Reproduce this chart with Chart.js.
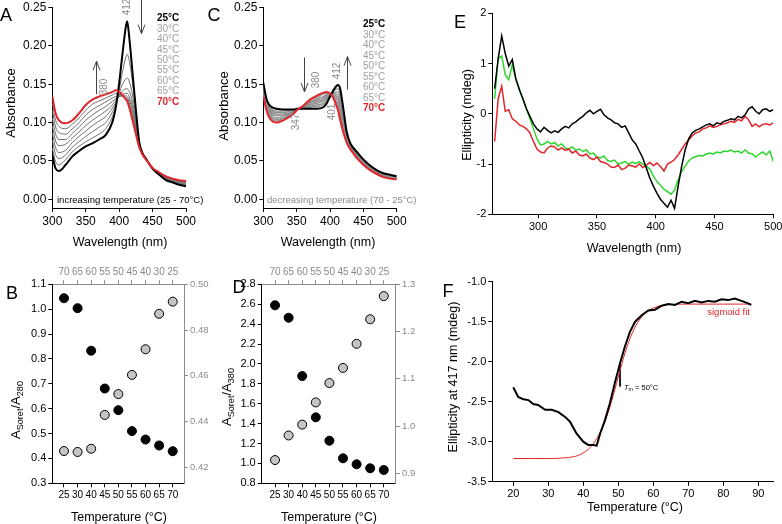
<!DOCTYPE html>
<html><head><meta charset="utf-8">
<script src="https://cdn.jsdelivr.net/npm/chart.js@4"></script>
<style>
body{margin:0;background:#fff;width:782px;height:524px;position:relative;overflow:hidden;font-family:"Liberation Sans",Arial,sans-serif}
canvas{position:absolute;left:0;top:0}
.t{position:absolute;white-space:nowrap;line-height:1;color:#000}
.rot{transform:translate(-50%,-50%) rotate(-90deg)}
.c{transform:translate(-50%,-50%)}
.l{transform:translateY(-50%)}
.g{color:#8a8a8a}
sub{font-size:70%;vertical-align:-0.25em}
</style></head><body>
<canvas id="cA" width="782" height="524"></canvas>
<canvas id="cC" width="782" height="524"></canvas>
<canvas id="cE" width="782" height="524"></canvas>
<canvas id="cB" width="782" height="524"></canvas>
<canvas id="cD" width="782" height="524"></canvas>
<canvas id="cF" width="782" height="524"></canvas>

<div class="t c" style="left:6px;top:15px;font-size:18px">A</div>
<div class="t c" style="left:214px;top:15px;font-size:18px">C</div>
<div class="t c" style="left:460px;top:22px;font-size:18px">E</div>
<div class="t c" style="left:12px;top:293px;font-size:18px">B</div>
<div class="t c" style="left:239px;top:287px;font-size:18px">D</div>
<div class="t c" style="left:448px;top:291px;font-size:18px">F</div>

<div class="t rot" style="left:10px;top:103px;font-size:13px">Absorbance</div>
<div class="t c" style="left:120px;top:242px;font-size:12.5px">Wavelength (nm)</div>
<div class="t rot" style="left:223px;top:106px;font-size:13px">Absorbance</div>
<div class="t c" style="left:328px;top:242px;font-size:12.5px">Wavelength (nm)</div>
<div class="t rot" style="left:467px;top:115px;font-size:12.5px">Ellipticity (mdeg)</div>
<div class="t c" style="left:634px;top:248px;font-size:12.5px">Wavelength (nm)</div>
<div class="t rot" style="left:17px;top:410px;font-size:13px">A<sub>Soret</sub>/A<sub>280</sub></div>
<div class="t c" style="left:119px;top:517px;font-size:12.5px">Temperature (°C)</div>
<div class="t rot" style="left:228px;top:397px;font-size:13px">A<sub>Soret</sub>/A<sub>380</sub></div>
<div class="t c" style="left:329px;top:517px;font-size:12.5px">Temperature (°C)</div>
<div class="t rot" style="left:453px;top:377px;font-size:12.5px">Ellipticity at 417 nm (mdeg)</div>
<div class="t c" style="left:635px;top:507px;font-size:12.5px">Temperature (°C)</div>

<div class="t rot g" style="left:127px;top:7px;font-size:10px">412</div>
<div class="t rot g" style="left:104px;top:87px;font-size:10px">380</div>
<div class="t l" style="left:57px;top:200px;font-size:9.5px">increasing temperature (25 - 70°C)</div>
<div class="t rot g" style="left:316px;top:80px;font-size:10px">380</div>
<div class="t rot g" style="left:337px;top:71px;font-size:10px">412</div>
<div class="t rot g" style="left:296px;top:122px;font-size:10px">347</div>
<div class="t rot g" style="left:332px;top:112px;font-size:10px">401</div>
<div class="t l g" style="left:267px;top:200px;font-size:9.5px">decreasing temperature (70 - 25°C)</div>
<div class="t l" style="right:32px;top:312px;font-size:9.5px;color:#e3262b">sigmoid fit</div>
<div class="t l" style="left:624px;top:388px;font-size:7.5px"><i>T</i><sub>m</sub> = 50°C</div>
<div id="legA"></div><div id="legC"></div>

<script>
// ---- panel A: heating spectra
var wlA = [300,305,310,320,330,340,350,360,370,380,390,395,400,405,410,412,415,420,425,430,435,440,450,460,470,480,490,500];
var a25 = [.058,.040,.037,.045,.056,.063,.069,.073,.078,.084,.101,.120,.151,.190,.225,.232,.212,.165,.117,.075,.060,.053,.040,.032,.025,.022,.019,.017];
var a30 = [.067,.049,.045,.052,.062,.069,.075,.080,.085,.092,.108,.122,.142,.166,.185,.189,.181,.152,.113,.075,.061,.053,.040,.033,.027,.023,.020,.018];
var a40 = [.077,.058,.053,.058,.068,.075,.082,.088,.094,.100,.114,.124,.138,.150,.157,.158,.154,.136,.107,.074,.060,.053,.040,.033,.027,.024,.021,.019];
var a45 = [.087,.067,.061,.064,.074,.082,.089,.096,.102,.108,.119,.126,.135,.141,.144,.144,.141,.127,.102,.073,.060,.053,.040,.034,.028,.025,.022,.020];
var a50 = [.096,.076,.070,.072,.080,.088,.096,.103,.109,.115,.123,.129,.134,.137,.138,.138,.134,.120,.098,.072,.059,.052,.040,.034,.028,.025,.022,.021];
var a55 = [.106,.085,.078,.078,.086,.094,.103,.110,.116,.121,.128,.131,.134,.135,.135,.134,.130,.115,.094,.071,.059,.052,.040,.034,.029,.026,.023,.022];
var a60 = [.116,.094,.087,.085,.092,.100,.110,.117,.122,.127,.132,.134,.135,.134,.133,.132,.126,.110,.091,.070,.058,.052,.040,.034,.029,.026,.024,.023];
var a65 = [.125,.103,.095,.092,.098,.106,.116,.124,.128,.132,.136,.138,.137,.135,.131,.130,.123,.106,.088,.069,.058,.052,.040,.035,.030,.027,.024,.023];
var a70 = [.134,.112,.103,.099,.103,.112,.123,.130,.134,.137,.140,.142,.140,.136,.130,.128,.120,.103,.085,.068,.058,.052,.041,.035,.030,.027,.025,.024];

// ---- panel C: cooling spectra
var wlC = [300,305,310,320,330,340,347,350,360,370,380,390,395,400,405,410,412,415,420,425,430,435,440,450,460,470,480,490,500];
var c25 = [.152,.130,.122,.118,.117,.117,.117,.118,.118,.118,.118,.120,.125,.134,.142,.148,.149,.145,.118,.088,.074,.067,.062,.052,.044,.038,.034,.032,.030];
var c30 = [.149,.128,.119,.115,.115,.116,.116,.118,.119,.120,.121,.123,.127,.135,.141,.144,.144,.139,.113,.086,.073,.066,.061,.051,.043,.037,.033,.031,.029];
var c40 = [.147,.126,.117,.113,.113,.115,.116,.117,.119,.121,.123,.125,.129,.135,.139,.140,.140,.134,.109,.084,.072,.065,.060,.050,.042,.037,.033,.031,.029];
var c45 = [.145,.124,.115,.111,.111,.113,.115,.117,.120,.123,.125,.128,.131,.136,.138,.137,.136,.129,.106,.082,.071,.064,.059,.049,.042,.036,.032,.030,.028];
var c50 = [.143,.122,.113,.109,.110,.112,.115,.117,.120,.124,.127,.130,.133,.136,.137,.134,.132,.124,.102,.081,.070,.063,.058,.048,.041,.035,.031,.029,.028];
var c55 = [.140,.120,.111,.106,.108,.111,.114,.117,.121,.126,.129,.132,.135,.137,.136,.131,.128,.119,.098,.079,.069,.063,.057,.048,.040,.035,.031,.029,.027];
var c60 = [.138,.119,.109,.104,.106,.110,.114,.116,.121,.127,.131,.134,.136,.137,.134,.127,.124,.114,.094,.077,.068,.062,.056,.047,.039,.034,.030,.028,.027];
var c65 = [.136,.117,.107,.102,.105,.109,.113,.116,.122,.129,.133,.137,.138,.137,.133,.124,.120,.109,.091,.076,.067,.061,.055,.046,.039,.034,.030,.028,.026];
var c70 = [.134,.115,.105,.100,.103,.108,.113,.116,.122,.130,.135,.139,.140,.138,.132,.121,.116,.104,.087,.074,.066,.060,.054,.045,.038,.033,.029,.027,.026];

var legendTemps = ['25°C','30°C','40°C','45°C','50°C','55°C','60°C','65°C','70°C'];

// ---- panel E: CD spectra
var wlE = [263,266,269,272,275,278,281,284,287,290,293,296,299,302,305,308,311,314,317,320,323,326,329,332,335,338,341,344,347,350,353,356,359,362,365,368,371,374,377,380,383,386,389,392,395,398,401,404,407,410,413,416,419,422,425,428,431,434,437,440,443,446,449,452,455,458,461,464,467,470,473,476,479,482,485,488,491,494,497,500];
var eBlack = [0.5,1.1,1.55,1.2,0.95,1.08,0.7,0.48,0.3,0.1,-0.05,-0.2,-0.3,-0.36,-0.27,-0.33,-0.38,-0.34,-0.37,-0.3,-0.25,-0.28,-0.2,-0.16,-0.1,-0.05,0.02,0.07,0.0,0.05,0.09,-0.02,-0.08,-0.12,-0.18,-0.2,-0.27,-0.24,-0.38,-0.52,-0.6,-0.74,-0.88,-1.08,-1.28,-1.44,-1.58,-1.7,-1.78,-1.86,-1.72,-1.88,-1.45,-1.05,-0.72,-0.5,-0.38,-0.33,-0.3,-0.26,-0.22,-0.2,-0.24,-0.18,-0.2,-0.15,-0.13,-0.1,-0.12,-0.05,-0.08,-0.02,0.1,0.14,0.05,0.0,0.08,0.1,0.05,0.08];
var eRed = [-0.55,0.3,0.55,0.05,0.08,-0.1,-0.15,-0.22,-0.25,-0.3,-0.38,-0.55,-0.7,-0.76,-0.78,-0.68,-0.64,-0.66,-0.72,-0.68,-0.73,-0.7,-0.78,-0.74,-0.82,-0.84,-0.8,-0.88,-0.91,-0.86,-0.95,-0.97,-1.0,-1.06,-1.07,-1.02,-1.11,-1.08,-1.02,-1.04,-1.06,-1.0,-1.07,-1.02,-0.97,-1.03,-0.98,-1.05,-1.14,-1.0,-0.96,-0.91,-0.82,-0.71,-0.6,-0.52,-0.44,-0.38,-0.36,-0.3,-0.28,-0.24,-0.27,-0.25,-0.22,-0.2,-0.18,-0.15,-0.17,-0.11,-0.14,-0.05,-0.12,-0.25,-0.2,-0.26,-0.21,-0.2,-0.22,-0.18];
var eGreen = [0.3,1.1,1.15,0.78,0.68,0.98,0.68,0.5,0.3,0.1,-0.1,-0.3,-0.5,-0.62,-0.6,-0.55,-0.6,-0.57,-0.64,-0.6,-0.68,-0.7,-0.66,-0.72,-0.7,-0.75,-0.72,-0.8,-0.78,-0.86,-0.88,-0.84,-0.93,-0.95,-0.92,-1.0,-0.98,-0.95,-1.0,-0.96,-0.99,-0.95,-1.0,-1.04,-1.1,-1.24,-1.35,-1.42,-1.5,-1.55,-1.6,-1.52,-1.32,-1.15,-1.04,-0.94,-0.88,-0.85,-0.83,-0.84,-0.8,-0.78,-0.8,-0.76,-0.78,-0.74,-0.75,-0.72,-0.76,-0.74,-0.78,-0.72,-0.78,-0.8,-0.86,-0.8,-0.76,-0.82,-0.74,-0.95];

// ---- panels B and D: Soret ratios
var tempUp = [25,30,40,45,50,55,60,65,70];
var tempDown = [70,65,60,55,50,45,40,30,25];
var ratio280Up = [1.044,1.004,0.833,0.681,0.594,0.510,0.476,0.452,0.429];
var ratio280Down = [0.4271,0.4267,0.4281,0.4429,0.4520,0.4604,0.4716,0.4871,0.4924];
var ratio380Up = [2.589,2.464,1.878,1.463,1.228,1.051,0.991,0.951,0.934];
var ratio380Down = [0.928,0.980,1.003,1.050,1.091,1.123,1.174,1.226,1.275];

// ---- panel F: melting curve at 417 nm
var meltT = [20,21.4,22.9,24.3,25.7,27.1,29.1,31,32.9,34.8,36.2,38.1,40,41.4,42.9,43.8,44.8,46.2,47.6,49,50.5,51.9,53.3,54.8,56.7,58.6,60.5,62.4,64.3,66.2,68.1,70,71.9,73.8,75.7,77.6,79.5,81.4,83.3,85.2,87.1,88];
var meltV = [-2.32,-2.44,-2.47,-2.48,-2.53,-2.54,-2.60,-2.60,-2.63,-2.69,-2.75,-2.90,-3.00,-3.04,-3.04,-3.05,-2.90,-2.73,-2.52,-2.27,-2.02,-1.81,-1.63,-1.50,-1.42,-1.36,-1.35,-1.30,-1.28,-1.29,-1.25,-1.27,-1.24,-1.26,-1.24,-1.25,-1.22,-1.23,-1.21,-1.24,-1.27,-1.29];
var fitT = [20,25,30,35,38,40,42,44,46,48,50,52,54,56,58,60,62,65,70,75,80,85,88];
var fitV = [-3.21,-3.21,-3.21,-3.20,-3.18,-3.14,-3.07,-2.95,-2.77,-2.51,-2.19,-1.88,-1.64,-1.48,-1.38,-1.33,-1.30,-1.285,-1.28,-1.28,-1.28,-1.28,-1.28];
var tmT = [50.5,50.5];
var tmV = [-2.04,-2.31];

// arrows: [wavelength, from, to]
var arrowsA = [[365,0.137,0.180],[433,0.262,0.216]];
var arrowsC = [[361,0.185,0.140],[425,0.143,0.186]];

var FAM = '"Liberation Sans", Arial, sans-serif';
var RED = '#e3262b';
var GREEN = '#2fd62f';

function ax(pos, min, max, ticks, fmt, size, col) {
    var horiz = pos === 'top' || pos === 'bottom';
    return {
        type: 'linear', position: pos, min: min, max: max,
        afterBuildTicks: function(s) { s.ticks = ticks.map(function(v) { return {value: v}; }); },
        afterFit: function(s) {
            if (horiz) { s.height = 30; s.paddingLeft = 0; s.paddingRight = 0; }
            else { s.width = 30; s.paddingTop = 0; s.paddingBottom = 0; }
        },
        grid: {drawOnChartArea: false, drawTicks: true, tickLength: 4, color: col, lineWidth: 1},
        border: {display: true, color: col, width: 1},
        ticks: {color: col, padding: 2, font: {family: FAM, size: size}, maxRotation: 0, minRotation: 0, autoSkip: false, callback: fmt}
    };
}

function line(xs, ys, color, w, more) {
    var d = {
        data: xs.map(function(x, i) { return {x: x, y: ys[i]}; }),
        borderColor: color, borderWidth: w, pointRadius: 0, showLine: true, fill: false, tension: 0
    };
    for (var k in more) d[k] = more[k];
    return d;
}

function dots(ys, fillCol, yId) {
    return {
        data: ys.map(function(v, i) { return {x: i, y: v}; }),
        yAxisID: yId, pointRadius: 4.5, pointBackgroundColor: fillCol,
        pointBorderColor: '#000', pointBorderWidth: 1, showLine: false
    };
}

function arrowPlugin(list) {
    return {
        id: 'arrows',
        afterDraw: function(ch) {
            var c = ch.ctx, xs = ch.scales.x, ys = ch.scales.y;
            c.save();
            c.strokeStyle = '#444';
            c.lineWidth = 1;
            list.forEach(function(a) {
                var x = Math.round(xs.getPixelForValue(a[0])) + 0.5;
                var y0 = ys.getPixelForValue(a[1]), y1 = ys.getPixelForValue(a[2]);
                var d = y1 > y0 ? 1 : -1;
                c.beginPath();
                c.moveTo(x, y0); c.lineTo(x, y1);
                c.moveTo(x - 3.5, y1 - d * 9); c.lineTo(x, y1); c.lineTo(x + 3.5, y1 - d * 9);
                c.stroke();
            });
            c.restore();
        }
    };
}

// box = [left, top, right, bottom] of the plot area
function mk(id, b, scales, datasets, extra) {
    var S = 30;
    var has = function(p) {
        return Object.keys(scales).some(function(k) { return scales[k].position === p; });
    };
    return new Chart(document.getElementById(id), {
        type: 'scatter',
        data: {datasets: datasets},
        options: {
            responsive: false, animation: false, events: [],
            layout: {autoPadding: false, padding: {
                left: b[0] - (has('left') ? S : 0),
                top: b[1] - (has('top') ? S : 0),
                right: 782 - b[2] - (has('right') ? S : 0),
                bottom: 524 - b[3] - (has('bottom') ? S : 0)
            }},
            plugins: {legend: {display: false}, tooltip: {enabled: false}},
            scales: scales
        },
        plugins: extra ? [extra] : []
    });
}

var f2 = function(v) { return v.toFixed(2); };
var f1 = function(v) { return v.toFixed(1); };
var f0 = function(v) { return String(v); };

// A
var GA = '#707070';
var smooth = {cubicInterpolationMode: 'monotone'};
mk('cA', [52.3, 7.5, 186, 208], {
    x: ax('bottom', 300, 500, [300,350,400,450,500], f0, 12, '#000'),
    y: ax('left', -0.0113, 0.25, [0,0.05,0.10,0.15,0.20,0.25], f2, 12, '#000')
}, [
    line(wlA, a70, RED, 2, smooth),
    line(wlA, a25, '#000', 2, smooth),
    line(wlA, a30, GA, 1, smooth),
    line(wlA, a40, GA, 1, smooth),
    line(wlA, a45, GA, 1, smooth),
    line(wlA, a50, GA, 1, smooth),
    line(wlA, a55, GA, 1, smooth),
    line(wlA, a60, GA, 1, smooth),
    line(wlA, a65, GA, 1, smooth)
], arrowPlugin(arrowsA));

// C
var GC = '#8c8c8c';
mk('cC', [263.3, 7.5, 396.7, 208], {
    x: ax('bottom', 300, 500, [300,350,400,450,500], f0, 12, '#000'),
    y: ax('left', -0.0113, 0.25, [0,0.05,0.10,0.15,0.20,0.25], f2, 12, '#000')
}, [
    line(wlC, c70, RED, 2, smooth),
    line(wlC, c25, '#000', 2, smooth),
    line(wlC, c30, GC, 1.3, smooth),
    line(wlC, c40, GC, 1.3, smooth),
    line(wlC, c45, GC, 1.3, smooth),
    line(wlC, c50, GC, 1.3, smooth),
    line(wlC, c55, GC, 1.3, smooth),
    line(wlC, c60, GC, 1.3, smooth),
    line(wlC, c65, GC, 1.3, smooth)
], arrowPlugin(arrowsC));

// E
mk('cE', [492.3, 13.3, 773.3, 214.3], {
    x: ax('bottom', 261, 500, [300,350,400,450,500], f0, 11, '#000'),
    y: ax('left', -2, 2, [-2,-1,0,1,2], f0, 11, '#000')
}, [
    line(wlE, eBlack, '#000', 1.5),
    line(wlE, eRed, RED, 1.5),
    line(wlE, eGreen, GREEN, 1.5)
]);

// B
var idx = [0,1,2,3,4,5,6,7,8];
mk('cB', [52.3, 284.3, 184, 483.3], {
    x: ax('bottom', -0.86, 8.83, idx, function(v) { return tempUp[v]; }, 10, '#000'),
    x2: ax('top', -0.86, 8.83, idx, function(v) { return tempDown[v]; }, 10, '#8a8a8a'),
    y: ax('left', 0.3, 1.1, [0.3,0.4,0.5,0.6,0.7,0.8,0.9,1.0,1.1], f1, 11, '#000'),
    y2: ax('right', 0.413, 0.50, [0.42,0.44,0.46,0.48,0.50], f2, 9.5, '#8a8a8a')
}, [
    dots(ratio280Up, '#000', 'y'),
    dots(ratio280Down, '#c4c4c4', 'y2')
]);

// D
mk('cD', [261.7, 284.3, 396, 483.3], {
    x: ax('bottom', -0.98, 8.9, idx, function(v) { return tempUp[v]; }, 10, '#000'),
    x2: ax('top', -0.98, 8.9, idx, function(v) { return tempDown[v]; }, 10, '#8a8a8a'),
    y: ax('left', 0.8, 2.8, [0.8,1.0,1.2,1.4,1.6,1.8,2.0,2.2,2.4,2.6,2.8], f1, 11, '#000'),
    y2: ax('right', 0.8788, 1.3, [0.9,1.0,1.1,1.2,1.3], f1, 9.5, '#8a8a8a')
}, [
    dots(ratio380Up, '#000', 'y'),
    dots(ratio380Down, '#c4c4c4', 'y2')
]);

// F
mk('cF', [492.3, 281.7, 773.3, 481.7], {
    x: ax('bottom', 14, 94.3, [20,30,40,50,60,70,80,90], f0, 11, '#000'),
    y: ax('left', -3.5, -1.0, [-3.5,-3.0,-2.5,-2.0,-1.5,-1.0], f1, 11, '#000')
}, [
    line(meltT, meltV, '#000', 2),
    line(fitT, fitV, RED, 1, smooth),
    line(tmT, tmV, '#000', 1)
]);

// legends for A and C
function legend(el, left, top0, step) {
    var html = '';
    legendTemps.forEach(function(t, i) {
        var st = 'left:' + left + 'px;top:' + (top0 + i * step) + 'px;font-size:10px;';
        if (i === 0) st += 'font-weight:bold;color:#000';
        else if (i === legendTemps.length - 1) st += 'font-weight:bold;color:' + RED;
        else st += 'color:#a0a0a0';
        html += '<div class="t l" style="' + st + '">' + t + '</div>';
    });
    document.getElementById(el).innerHTML = html;
}
legend('legA', 157, 18.3, 10.4);
legend('legC', 363, 24, 10.5);
</script>
</body></html>
